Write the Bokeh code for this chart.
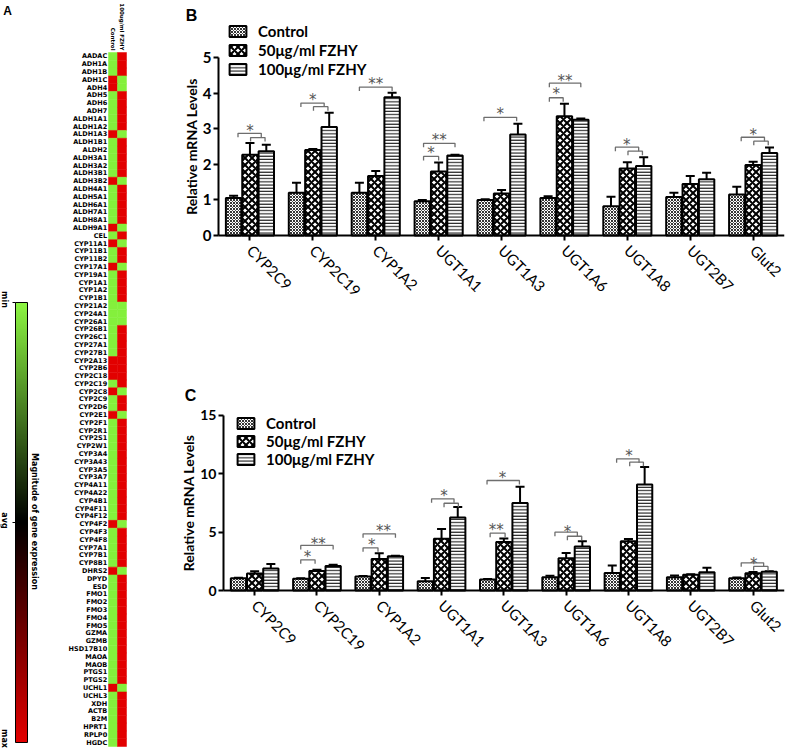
import numpy as np
from math import pi
from bokeh.plotting import figure
from bokeh.layouts import row, column
from bokeh.models import (ColumnDataSource, Range1d, Whisker, TeeHead,
                          Legend, LegendItem, FixedTicker, LinearColorMapper)
from bokeh.core.properties import value
from bokeh.embed import file_html
from bokeh.resources import INLINE

# ---------------- Panel A data ----------------
genes = ["AADAC", "ADH1A", "ADH1B", "ADH1C", "ADH4", "ADH5", "ADH6", "ADH7", "ALDH1A1", "ALDH1A2",
         "ALDH1A3", "ALDH1B1", "ALDH2", "ALDH3A1", "ALDH3A2", "ALDH3B1", "ALDH3B2", "ALDH4A1", "ALDH5A1", "ALDH6A1",
         "ALDH7A1", "ALDH8A1", "ALDH9A1", "CEL", "CYP11A1", "CYP11B1", "CYP11B2", "CYP17A1", "CYP19A1", "CYP1A1",
         "CYP1A2", "CYP1B1", "CYP21A2", "CYP24A1", "CYP26A1", "CYP26B1", "CYP26C1", "CYP27A1", "CYP27B1", "CYP2A13",
         "CYP2B6", "CYP2C18", "CYP2C19", "CYP2C8", "CYP2C9", "CYP2D6", "CYP2E1", "CYP2F1", "CYP2R1", "CYP2S1",
         "CYP2W1", "CYP3A4", "CYP3A43", "CYP3A5", "CYP3A7", "CYP4A11", "CYP4A22", "CYP4B1", "CYP4F11", "CYP4F12",
         "CYP4F2", "CYP4F3", "CYP4F8", "CYP7A1", "CYP7B1", "CYP8B1", "DHRS2", "DPYD", "ESD", "FMO1",
         "FMO2", "FMO3", "FMO4", "FMO5", "GZMA", "GZMB", "HSD17B10", "MAOA", "MAOB", "PTGS1",
         "PTGS2", "UCHL1", "UCHL3", "XDH", "ACTB", "B2M", "HPRT1", "RPLP0", "HGDC"]
# 1 = high expression (red), 0 = low expression (green)
control_high = [0, 0, 0, 1, 1, 0, 0, 0, 0, 0,
                1, 0, 0, 0, 0, 0, 1, 0, 0, 0,
                0, 0, 1, 0, 1, 0, 0, 1, 0, 0,
                0, 0, 0, 0, 0, 0, 0, 0, 0, 1,
                1, 1, 0, 1, 0, 0, 1, 0, 0, 0,
                0, 0, 0, 0, 0, 0, 0, 0, 0, 0,
                1, 0, 0, 0, 0, 0, 1, 0, 0, 0,
                0, 0, 0, 0, 0, 0, 0, 0, 0, 0,
                0, 1, 0, 0, 0, 0, 0, 0, 0]
fzhy_high = [1, 1, 1, 0, 0, 1, 1, 1, 1, 1,
             0, 1, 1, 1, 1, 1, 0, 1, 1, 1,
             1, 1, 0, 1, 0, 1, 1, 0, 1, 1,
             1, 1, 0, 0, 0, 1, 1, 1, 1, 1,
             1, 1, 1, 0, 1, 1, 0, 1, 1, 1,
             1, 1, 1, 1, 1, 1, 1, 1, 1, 1,
             0, 1, 1, 1, 1, 1, 0, 1, 1, 1,
             1, 1, 1, 1, 1, 1, 1, 1, 1, 1,
             1, 0, 1, 1, 1, 1, 1, 1, 1]
hm_cols = ["Control", "100ug/ml FZHY"]
cbar_labels = ["min", "avg", "max"]
cbar_title = "Magnitude of gene expression"

# ---------------- Panels B / C data ----------------
cats = ["CYP2C9", "CYP2C19", "CYP1A2", "UGT1A1", "UGT1A3", "UGT1A6", "UGT1A8", "UGT2B7", "Glut2"]
series_labels = ["Control", "50μg/ml FZHY", "100μg/ml FZHY"]

ctrl_B = [1.05, 1.20, 1.20, 0.96, 1.00, 1.05, 0.82, 1.08, 1.15]
ctrl_B_err = [0.07, 0.28, 0.28, 0.04, 0.02, 0.05, 0.27, 0.12, 0.22]
f50_B = [2.27, 2.40, 1.67, 1.80, 1.18, 3.35, 1.88, 1.45, 1.98]
f50_B_err = [0.33, 0.03, 0.14, 0.25, 0.10, 0.35, 0.18, 0.22, 0.09]
f100_B = [2.37, 3.05, 3.88, 2.25, 2.84, 3.25, 1.95, 1.58, 2.32]
f100_B_err = [0.18, 0.40, 0.13, 0.02, 0.30, 0.04, 0.25, 0.18, 0.15]

ctrl_C = [1.05, 1.00, 1.20, 0.80, 0.94, 1.13, 1.49, 1.14, 1.06]
ctrl_C_err = [0.05, 0.05, 0.05, 0.28, 0.05, 0.14, 0.65, 0.15, 0.05]
f50_C = [1.45, 1.68, 2.70, 4.43, 4.15, 2.77, 4.22, 1.35, 1.48]
f50_C_err = [0.20, 0.10, 0.50, 0.85, 0.30, 0.45, 0.20, 0.05, 0.10]
f100_C = [1.88, 2.10, 2.93, 6.25, 7.50, 3.77, 9.08, 1.57, 1.60]
f100_C_err = [0.40, 0.10, 0.05, 0.90, 1.40, 0.46, 1.50, 0.37, 0.05]

# significance brackets: category, start offset, end offset (group units), height
brB_cat = ["CYP2C9", "CYP2C9", "CYP2C19", "CYP2C19", "CYP1A2", "UGT1A1", "UGT1A1", "UGT1A3",
           "UGT1A6", "UGT1A6", "UGT1A8", "UGT1A8", "Glut2", "Glut2"]
brB_x0 = [-0.19, 0.01, -0.19, 0.01, -0.26, -0.24, -0.24, -0.28, -0.24, -0.24, -0.19, 0.01, -0.19, 0.01]
brB_x1 = [0.18, 0.24, 0.18, 0.24, 0.26, 0.26, 0.00, 0.24, 0.26, -0.02, 0.18, 0.24, 0.18, 0.24]
brB_y = [2.87, 2.75, 3.72, 3.62, 4.17, 2.59, 2.22, 3.32, 4.28, 3.87, 2.48, 2.37, 2.76, 2.65]
stB_cat = ["CYP2C9", "CYP2C19", "CYP1A2", "UGT1A1", "UGT1A1", "UGT1A3", "UGT1A6", "UGT1A6", "UGT1A8", "Glut2"]
stB_txt = ["*", "*", "**", "**", "*", "*", "**", "*", "*", "*"]
stB_x = [0.0, 0.0, 0.0, 0.01, -0.12, -0.02, 0.01, -0.13, -0.01, 0.0]
stB_y = [3.03, 3.88, 4.33, 2.76, 2.39, 3.51, 4.43, 4.05, 2.62, 2.90]

brC_cat = ["CYP2C19", "CYP2C19", "CYP1A2", "CYP1A2", "UGT1A1", "UGT1A1", "UGT1A3", "UGT1A3",
           "UGT1A6", "UGT1A6", "UGT1A8", "UGT1A8", "Glut2", "Glut2"]
brC_x0 = [-0.26, -0.26, -0.26, -0.26, -0.16, 0.04, -0.27, -0.22, -0.18, 0.02, -0.19, 0.02, -0.19, 0.01]
brC_x1 = [0.26, -0.03, 0.26, -0.02, 0.20, 0.27, 0.25, 0.02, 0.18, 0.25, 0.17, 0.24, 0.17, 0.24]
brC_y = [3.86, 2.63, 4.86, 3.66, 7.86, 7.48, 9.43, 4.91, 5.00, 4.65, 11.29, 11.00, 2.37, 2.06]
stC_cat = ["CYP2C19", "CYP2C19", "CYP1A2", "CYP1A2", "UGT1A1", "UGT1A3", "UGT1A3", "UGT1A6", "UGT1A8", "Glut2"]
stC_txt = ["**", "*", "**", "*", "*", "*", "**", "*", "*", "*"]
stC_x = [0.02, -0.15, 0.07, -0.12, 0.04, -0.02, -0.12, 0.02, 0.01, 0.01]
stC_y = [4.28, 3.14, 5.37, 4.14, 8.34, 9.86, 5.43, 5.23, 11.80, 2.57]

yticks_B = [0, 1, 2, 3, 4, 5]
yticks_C = [0, 5, 10, 15]

# ---------------- styles ----------------
GREEN = "#84F03C"
RED = "#E20000"
SANS = "Lato"
PAGE_H = 751


def hex_rgb(h):
    h = h.lstrip("#")
    return [int(h[i:i + 2], 16) for i in (0, 2, 4)]


def ramp(c0, c1, n):
    a, b = np.array(hex_rgb(c0)), np.array(hex_rgb(c1))
    out = []
    for t in np.linspace(0, 1, n):
        r, g, bb = (a + (b - a) * t).round().astype(int)
        out.append("#%02x%02x%02x" % (r, g, bb))
    return out


def bare(p):
    p.grid.visible = False
    p.outline_line_color = None
    return p


# ---------------- colour bar (layout units = pixels, y up) ----------------
cb = bare(figure(width=56, height=PAGE_H, x_range=Range1d(0, 56), y_range=Range1d(0, PAGE_H),
                 output_backend="svg", toolbar_location=None, title=None, frame_align=False,
                 x_axis_location=None, y_axis_location=None, min_border=0))
bar_l, bar_w, bar_b, bar_h = 15, 12, 9, 440
palette = ramp(RED, "#000000", 128) + ramp("#000000", "#8CF542", 128)
grad = np.linspace(0, 1, 256).reshape(256, 1)
cb.image(image=[grad], x=bar_l, y=bar_b, dw=bar_w, dh=bar_h,
         color_mapper=LinearColorMapper(palette=palette, low=0, high=1))
cb.quad(left=bar_l, right=bar_l + bar_w, bottom=bar_b, top=bar_b + bar_h,
        fill_color=None, line_color="black", line_width=1)
lab_pos = [bar_b + bar_h + 3, bar_b + bar_h / 2 + 2, bar_b + 4]
cb.segment(x0=[bar_l - 3] * 2, x1=[bar_l] * 2, y0=[bar_b + bar_h, bar_b + bar_h / 2],
           y1=[bar_b + bar_h, bar_b + bar_h / 2], line_color="black", line_width=1)
cb.text(x=[4] * 3, y=lab_pos, text=cbar_labels, angle=-pi / 2,
        text_align="center", text_baseline="middle", text_font=value("DejaVu Sans"),
        text_font_size="8px", text_font_style="bold", text_color="black")
cb.text(x=[bar_l + bar_w + 6.5], y=[bar_b + bar_h / 2 + 1], text=[cbar_title], angle=-pi / 2,
        text_align="center", text_baseline="middle", text_font=value("DejaVu Sans"),
        text_font_size="8px", text_font_style="bold", text_color="black")
cb.text(x=[7], y=[PAGE_H - 10], text=["A"], text_align="center", text_baseline="middle",
        text_font=value("Liberation Sans"), text_font_size="12px", text_font_style="bold",
        text_color="black")

# ---------------- heat map (x: column index, y: gene index from top) ----------------
n = len(genes)
row_px, col_px = 7.8, 9.0
hm = bare(figure(width=80, height=PAGE_H,
                 x_range=Range1d(-52 / col_px, 28 / col_px),
                 y_range=Range1d(n + 5 / row_px, -52 / row_px),
                 output_backend="svg", toolbar_location=None, title=None, frame_align=False,
                 x_axis_location=None, y_axis_location=None, min_border=0))
hx, hy, hc = [], [], []
for gi, (c, f) in enumerate(zip(control_high, fzhy_high)):
    hx += [0.5, 1.5]
    hy += [gi + 0.5, gi + 0.5]
    hc += [RED if c else GREEN, RED if f else GREEN]
hm.rect(x=hx, y=hy, width=1, height=1, fill_color=hc, line_color=hc, line_width=0.5)
hm.text(x=[-0.15] * n, y=[i + 0.5 for i in range(n)], text=genes,
        text_align="right", text_baseline="middle", text_font=value("DejaVu Sans"),
        text_font_size="6.5px", text_font_style="bold", text_color="black")
hm.text(x=[0.5, 1.5], y=[-0.25, -0.25], text=hm_cols, angle=-pi / 2,
        text_align="right", text_baseline="middle", text_font=value("DejaVu Sans"),
        text_font_size="5.5px", text_font_style="bold", text_color="black")


# ---------------- bar panels (x: group index, groups centred at i + 0.5) ----------------
FIG_W = 650
B_LEFT = 40       # left border; the y axis is drawn inside the frame at x = 0
B_BOTTOM = 20     # bottom border; the x axis is drawn inside the frame at y = 0


def bar_panel(fig_h, b_top, zero_px, axis_px, spacing_px, ppu, ticks, tick_fs,
              ctrl, ctrl_e, f50, f50_e, f100, f100_e,
              br_cat, br_x0, br_x1, br_y, st_cat, st_x, st_y, st_txt,
              leg_px, leg_row, letter, letter_px):
    frame_bottom = fig_h - B_BOTTOM
    frame_w = FIG_W - B_LEFT - 2
    ymax = (zero_px - b_top) / ppu
    ymin = -(frame_bottom - zero_px) / ppu
    x0 = -(axis_px - B_LEFT) / spacing_px
    p = figure(width=FIG_W, height=fig_h, x_range=Range1d(x0, x0 + frame_w / spacing_px),
               y_range=Range1d(ymin, ymax),
               output_backend="svg", toolbar_location=None, title=None, frame_align=False,
               min_border_left=B_LEFT, min_border_right=2, min_border_top=b_top, min_border_bottom=B_BOTTOM)
    centers = [i + 0.5 for i in range(len(cats))]
    offs = [-0.26, 0.0, 0.26]
    src = ColumnDataSource(dict(
        xc=[c + offs[0] for c in centers], xm=[c + offs[1] for c in centers], xh=[c + offs[2] for c in centers],
        c=ctrl, c_hi=[v + e for v, e in zip(ctrl, ctrl_e)],
        m=f50, m_hi=[v + e for v, e in zip(f50, f50_e)],
        h=f100, h_hi=[v + e for v, e in zip(f100, f100_e)]))
    specs = [("c", "xc", "x", 3, 0.8), ("m", "xm", "x", 7, 2.0), ("h", "xh", "-", 3.2, 1)]
    rends = []
    for (fld, xf, pat, sc, wt), lab in zip(specs, series_labels):
        p.add_layout(Whisker(source=src, base=xf, lower=fld, upper=fld + "_hi",
                             line_color="black", line_width=2, lower_head=None,
                             upper_head=TeeHead(size=9, line_color="black", line_width=2)))
        r = p.vbar(x=xf, top=fld, bottom=0, width=0.245, source=src,
                   fill_color="white", line_color="black", line_width=2,
                   hatch_pattern=pat, hatch_scale=sc, hatch_weight=wt, hatch_color="black")
        rends.append((lab, r))
    # brackets
    tk = 4.0 / ppu
    xs, ys = [], []
    for c, a, b, y in zip(br_cat, br_x0, br_x1, br_y):
        i = cats.index(c) + 0.5
        xs.append([i + a, i + a, i + b, i + b])
        ys.append([y - tk, y, y, y - tk])
    p.multi_line(xs, ys, line_color="#6e6e6e", line_width=1.3)
    p.text(x=[cats.index(c) + 0.5 + d for c, d in zip(st_cat, st_x)], y=st_y, text=st_txt,
           text_font=value("DejaVu Sans"), text_font_size="15px", text_color="#555555",
           text_align="center", text_baseline="middle", y_offset=3)
    # category labels (rotated, hanging from each tick)
    p.text(x=centers, y=[-12.0 / ppu] * len(cats), text=cats, angle=-pi / 4,
           text_align="left", text_baseline="middle", text_font=value(SANS),
           text_font_size="15px", text_color="black")
    # panel letter
    p.text(x=[(letter_px[0] - axis_px) / spacing_px], y=[ymax - (letter_px[1] - b_top) / ppu],
           text=[letter], text_align="center", text_baseline="middle",
           text_font=value("Liberation Sans"), text_font_size="16px", text_font_style="bold",
           text_color="black")
    # axes
    p.grid.visible = False
    p.outline_line_color = None
    for ax in (p.xaxis[0], p.yaxis[0]):
        ax.axis_line_width = 2
        ax.axis_line_color = "black"
        ax.major_tick_line_width = 2
        ax.major_tick_line_color = "black"
        ax.major_tick_out = 5
        ax.major_tick_in = 0
        ax.minor_tick_line_color = None
        ax.major_label_text_color = "black"
    p.yaxis.fixed_location = 0
    p.yaxis.ticker = FixedTicker(ticks=ticks)
    p.yaxis.bounds = (ticks[0], ticks[-1])
    p.yaxis.major_label_text_font = SANS
    p.yaxis.major_label_text_font_style = "bold"
    p.yaxis.major_label_text_font_size = tick_fs
    p.yaxis.major_label_standoff = 2
    p.yaxis.axis_label = "Relative mRNA Levels"
    p.yaxis.axis_label_text_font = SANS
    p.yaxis.axis_label_text_font_style = "bold"
    p.yaxis.axis_label_text_font_size = "14px"
    p.yaxis.axis_label_text_color = "black"
    p.yaxis.axis_label_standoff = 0
    p.xaxis.fixed_location = 0
    p.xaxis.ticker = FixedTicker(ticks=centers)
    p.xaxis.major_label_overrides = {c: "" for c in centers}
    p.xaxis.bounds = (0, len(cats))
    leg = Legend(items=[LegendItem(label=l, renderers=[r]) for l, r in rends],
                 location=(leg_px[0] - B_LEFT, frame_bottom - leg_px[1]),
                 glyph_width=21, glyph_height=14, label_height=leg_row, spacing=0, padding=0, margin=0,
                 label_standoff=10, label_text_font=SANS, label_text_font_style="bold",
                 label_text_font_size="15px", label_text_color="black",
                 border_line_color=None, background_fill_alpha=0)
    p.add_layout(leg)
    return p


# B: figure spans page x 136..786, y 0..376; y axis at x=218, zero line at y=235
pB = bar_panel(376, 6, 235, 82, 62.9, 35.6, yticks_B, "15px",
               ctrl_B, ctrl_B_err, f50_B, f50_B_err, f100_B, f100_B_err,
               brB_cat, brB_x0, brB_x1, brB_y, stB_cat, stB_x, stB_y, stB_txt,
               (91, 78.5), 19, "B", (55, 15))
# C: figure spans page y 376..751; y axis at x=223, zero line at y=590
pC = bar_panel(375, 10, 214, 87, 62.3, 11.667, yticks_C, "14px",
               ctrl_C, ctrl_C_err, f50_C, f50_C_err, f100_C, f100_C_err,
               brC_cat, brC_x0, brC_x1, brC_y, stC_cat, stC_x, stC_y, stC_txt,
               (99, 91.7), 18, "C", (54, 19))

layout = row(cb, hm, column(pB, pC))
open("out.html", "w").write(file_html(layout, INLINE))
